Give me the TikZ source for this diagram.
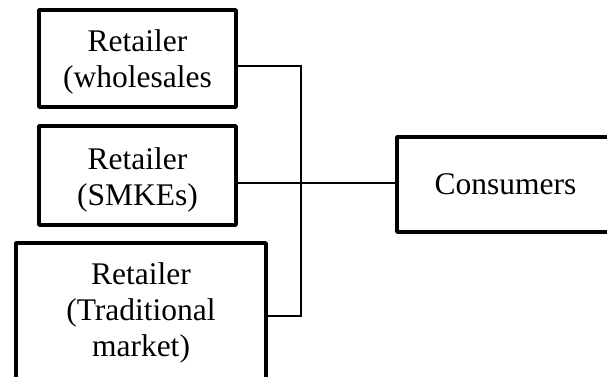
\documentclass[tikz,border=0pt]{standalone}
\usepackage{fontspec}
\setmainfont{Liberation Serif}
\begin{document}
\begin{tikzpicture}[x=1pt,y=-1pt,
  box/.style={draw, line width=3.5pt, line join=round, inner sep=0pt},
  txt/.style={align=center, inner sep=0pt, font=\fontsize{31.5}{36}\selectfont},
  conn/.style={draw, line width=1.3pt}]
\clip (0,0) rectangle (607,376);
\useasboundingbox (0,0) rectangle (607,376);
\node[box, minimum width=197pt, minimum height=97pt,
  label={[txt, yshift=-3.5pt]center:Retailer\\(wholesales}] (b1) at (137.5,58.5) {};
\node[box, minimum width=197pt, minimum height=99pt,
  label={[txt, yshift=-4.5pt]center:Retailer\\(SMKEs)}] (b2) at (137.5,175.5) {};
\node[box, minimum width=250pt, minimum height=136pt,
  label={[txt, yshift=-1.5pt]center:Retailer\\(Traditional\\market)}] (b3) at (141,311) {};
\node[box, minimum width=217pt, minimum height=95pt,
  label={[txt]center:Consumers}] (c) at (505.5,184.5) {};
\coordinate (top) at (301,66);
\coordinate (bot) at (301,316);
\coordinate (mid) at (301,183);
\draw[conn] (b1.east |- top) -- (top) -- (bot) -- (b3.east |- bot);
\draw[conn] (b2.east |- mid) -- (c.west |- mid);
\end{tikzpicture}
\end{document}
